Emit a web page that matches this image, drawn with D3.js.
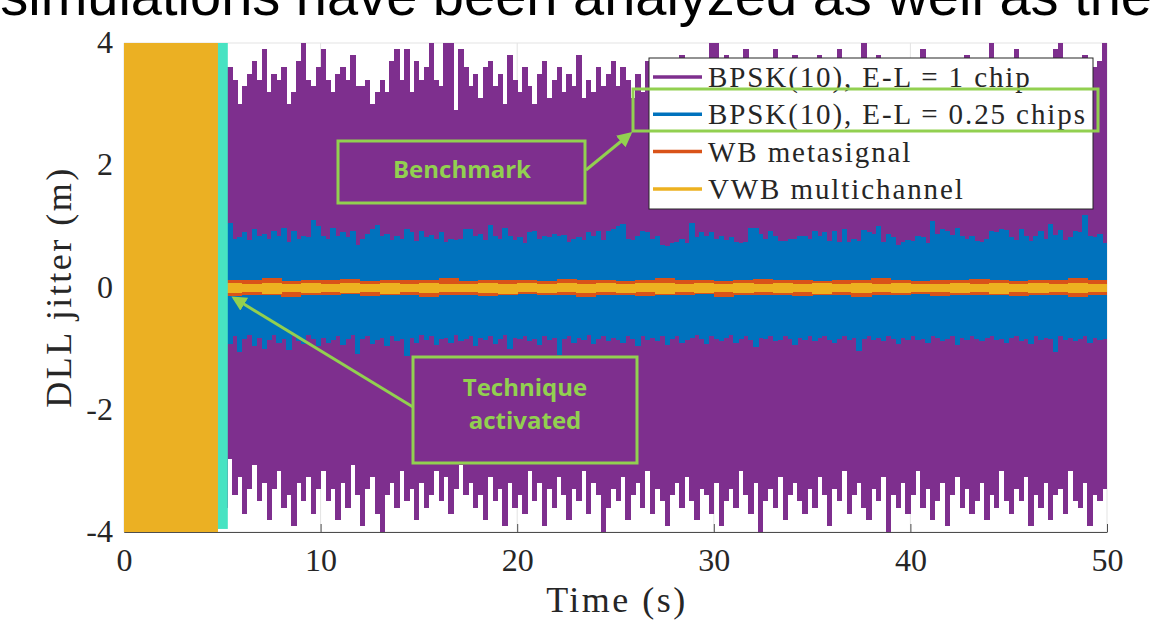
<!DOCTYPE html>
<meta charset="utf-8">
<style>
html, body {
  margin: 0;
  background: #fff;
}

.chart text {
  font-family: "Liberation Serif", "Times New Roman", serif;
  fill: #262626;
}

.chart .banner {
  font-family: "Liberation Sans", Arial, sans-serif;
  fill: #000;
}

.chart .note {
  font-family: "Open Sans", "Liberation Sans", sans-serif;
  font-weight: bold;
  fill: #92d050;
}

.chart .grid line {
  stroke: #e3e3e3;
}

.chart .samples rect {
  shape-rendering: crispEdges;
}
</style>
<body>
<svg class="chart" width="1160" height="620"></svg>

<script src="https://d3js.org/d3.v7.min.js"></script>
<script>
"use strict";

// E-L = 1 chip, envelope per 0.25 s from t = 5 s
var purpleHi = [
  3.5, 3.6, 3.4, 3.0, 3.3, 3.5, 3.7, 3.4, 3.9, 3.2, 3.5, 3.4, 3.6, 3.0, 3.2, 3.7, 4.0, 3.4, 3.3, 3.6,
  3.9, 3.4, 3.2, 3.5, 3.6, 3.4, 3.8, 3.3, 3.3, 3.4, 3.0, 3.2, 3.4, 3.2, 3.7, 3.9, 3.4, 3.9, 3.2, 3.7,
  3.4, 3.6, 4.0, 3.4, 3.3, 4.0, 4.0, 2.9, 3.9, 3.6, 3.3, 3.5, 3.1, 3.6, 3.7, 3.3, 3.5, 3.0, 3.8, 3.4,
  3.2, 3.6, 3.3, 3.0, 3.5, 3.7, 3.1, 3.4, 3.6, 3.2, 3.5, 3.3, 3.8, 3.1, 3.4, 3.2, 3.6, 3.3, 3.5, 3.7,
  3.3, 3.6, 3.4, 3.1, 3.5, 3.2, 3.7, 3.4, 3.3, 3.6, 3.0, 3.5, 3.4, 3.8, 3.2, 3.6, 3.4, 3.7, 3.3, 4.0,
  4.0, 3.5, 3.8, 3.4, 3.6, 3.3, 3.9, 3.5, 3.7, 3.2, 3.6, 3.4, 3.9, 3.5, 3.3, 3.6, 3.8, 3.4, 3.5, 3.7,
  3.4, 3.8, 3.3, 3.6, 3.5, 3.9, 3.4, 3.7, 3.3, 3.5, 4.0, 3.6, 3.4, 3.8, 3.5, 3.3, 3.6, 3.4, 3.7, 3.5,
  3.3, 3.6, 3.9, 3.4, 3.5, 3.2, 3.7, 3.4, 3.6, 3.3, 3.5, 3.8, 3.4, 3.6, 3.3, 3.5, 4.0, 3.4, 3.7, 3.5,
  3.4, 3.9, 3.3, 3.6, 3.5, 3.2, 3.7, 3.5, 3.4, 3.9, 4.0, 3.3, 3.6, 3.4, 3.5, 3.8, 3.3, 3.6, 3.7, 4.0
];
var purpleLo = [
  -3.6, -2.8, -3.4, -3.1, -3.7, -3.3, -2.9, -3.5, -3.2, -3.8, -3.3, -3.0, -3.6, -3.4, -3.9, -3.2, -3.5, -3.1, -3.7, -3.3,
  -3.0, -3.5, -3.3, -3.8, -3.2, -3.6, -2.9, -3.4, -3.9, -3.3, -3.1, -3.7, -4.0, -3.4, -3.2, -3.6, -3.0, -3.5, -3.3, -3.8,
  -3.2, -3.6, -3.4, -3.0, -3.5, -3.1, -3.7, -3.3, -2.9, -3.4, -3.2, -3.6, -3.4, -3.8, -3.1, -3.5, -3.3, -3.9, -3.2, -3.6,
  -3.4, -3.7, -3.0, -3.5, -3.2, -3.9, -3.3, -3.6, -3.1, -3.4, -3.8, -3.3, -3.5, -3.0, -3.7, -3.2, -3.4, -4.0, -3.6, -3.3,
  -3.5, -3.1, -3.8, -3.4, -3.2, -3.6, -3.0, -3.7, -3.3, -3.5, -3.9, -3.4, -3.2, -3.6, -3.1, -3.5, -3.8, -3.3, -3.4, -3.7,
  -3.2, -3.9, -3.5, -3.3, -3.6, -3.0, -3.4, -3.7, -3.2, -4.0, -3.5, -3.3, -3.6, -3.1, -3.8, -3.4, -3.2, -3.5, -3.7, -3.3,
  -3.6, -3.1, -3.4, -3.9, -3.3, -3.5, -3.0, -3.7, -3.4, -3.2, -3.6, -3.8, -3.3, -3.5, -3.1, -4.0, -3.4, -3.6, -3.2, -3.7,
  -3.4, -3.0, -3.6, -3.3, -3.8, -3.5, -3.2, -3.9, -3.4, -3.1, -3.6, -3.3, -3.7, -3.5, -3.2, -3.8, -3.4, -3.6, -3.0, -3.5,
  -3.7, -3.3, -3.5, -3.1, -3.9, -3.4, -3.6, -3.2, -3.8, -3.4, -3.3, -3.7, -3.0, -3.5, -3.6, -3.2, -3.9, -3.4, -3.5, -3.3
];

// E-L = 0.25 chips, envelope per 0.25 s from t = 5 s
var blueHi = [
  0.95, 1.05, 0.80, 0.82, 0.90, 0.78, 0.95, 0.85, 0.88, 0.80, 0.93, 0.85, 0.98, 0.75, 0.92, 0.80, 0.85, 0.82, 1.10, 1.00,
  0.85, 0.80, 0.97, 0.85, 0.90, 0.82, 0.92, 0.70, 0.80, 0.88, 0.95, 1.02, 0.85, 0.88, 0.78, 0.85, 0.80, 0.95, 0.90, 0.76,
  0.92, 0.82, 0.86, 0.80, 0.90, 0.74, 0.80, 0.77, 0.80, 0.96, 0.95, 0.85, 0.88, 0.78, 1.02, 0.85, 0.80, 0.98, 0.84, 0.78,
  0.82, 0.72, 0.90, 0.92, 0.80, 0.85, 0.82, 0.88, 0.84, 0.86, 0.74, 0.80, 0.82, 0.78, 0.90, 0.84, 0.93, 0.78, 0.93, 0.96,
  1.00, 1.04, 0.80, 0.78, 0.85, 0.92, 0.90, 0.80, 0.85, 0.70, 0.68, 0.72, 0.75, 0.80, 0.72, 1.05, 0.82, 0.90, 0.84, 0.91,
  0.80, 0.85, 0.78, 0.82, 0.74, 0.72, 0.75, 0.98, 0.98, 0.88, 0.80, 0.93, 0.85, 0.76, 0.76, 0.80, 0.80, 0.85, 0.85, 0.80,
  0.92, 0.84, 0.90, 0.76, 0.92, 0.75, 0.96, 0.74, 0.80, 0.76, 0.94, 0.90, 0.88, 1.00, 0.75, 0.88, 0.82, 0.70, 0.74, 0.78,
  0.76, 0.84, 0.82, 0.72, 1.08, 0.88, 0.96, 0.92, 0.86, 0.98, 0.84, 0.80, 0.84, 0.76, 0.74, 0.80, 0.92, 0.90, 0.96, 0.94,
  0.82, 0.78, 0.96, 0.84, 0.76, 0.84, 0.92, 0.80, 1.04, 0.86, 0.94, 0.78, 0.82, 0.92, 0.90, 1.18, 0.85, 0.82, 0.88, 0.72
];
var blueLo = [
  -0.88, -0.92, -0.80, -1.05, -0.85, -0.78, -0.95, -0.82, -1.00, -0.86, -0.78, -0.90, -0.84, -1.02, -0.80, -0.88, -0.92, -0.78, -0.85, -0.96,
  -0.82, -0.90, -0.86, -0.80, -0.94, -0.84, -0.78, -1.08, -0.85, -0.80, -0.92, -0.86, -0.82, -0.95, -0.80, -0.88, -0.84, -1.12, -0.82, -0.90,
  -0.78, -0.86, -0.80, -0.94, -0.84, -0.82, -0.90, -0.78, -0.88, -0.85, -0.80, -0.96, -0.82, -0.86, -0.80, -0.92, -0.84, -0.78, -1.00, -0.82,
  -0.85, -0.80, -0.88, -0.84, -0.94, -0.80, -0.86, -0.82, -1.10, -0.84, -0.80, -0.90, -0.82, -0.86, -0.78, -0.92, -0.84, -0.80, -0.88, -0.82,
  -0.86, -0.90, -0.80, -0.84, -0.96, -0.80, -0.86, -0.82, -0.88, -0.80, -0.94, -0.84, -0.80, -0.90, -0.86, -0.82, -0.78, -0.84, -0.92, -0.80,
  -0.84, -0.88, -0.82, -0.78, -0.90, -0.84, -0.80, -0.86, -0.98, -0.82, -0.84, -0.80, -0.88, -0.86, -0.80, -0.84, -0.94, -0.82, -0.86, -0.80,
  -0.88, -0.82, -0.80, -0.86, -0.90, -0.84, -0.80, -0.86, -0.82, -1.04, -0.84, -0.80, -0.86, -0.82, -0.88, -0.80, -0.84, -0.92, -0.82, -0.86,
  -0.80, -0.86, -0.84, -0.90, -0.80, -0.82, -0.88, -0.84, -0.80, -0.94, -0.82, -0.86, -0.80, -0.84, -0.88, -0.82, -0.80, -0.86, -0.84, -0.90,
  -0.82, -0.80, -0.88, -0.84, -0.92, -0.80, -0.86, -0.82, -0.84, -1.06, -0.80, -0.86, -0.82, -0.88, -0.84, -0.80, -0.90, -0.82, -0.86, -0.84
];

// WB metasignal and VWB multichannel, envelope per 1 s from t = 5 s
var orangeHi = [0.13, 0.12, 0.15, 0.11, 0.13, 0.12, 0.14, 0.11, 0.12, 0.13, 0.12, 0.15, 0.11, 0.12, 0.13, 0.12, 0.11, 0.14, 0.12, 0.13, 0.11, 0.12, 0.16, 0.12, 0.13, 0.11, 0.12, 0.14, 0.12, 0.13, 0.11, 0.12, 0.13, 0.15, 0.12, 0.11, 0.13, 0.12, 0.14, 0.12, 0.11, 0.13, 0.12, 0.15, 0.13];
var orangeLo = [-0.14, -0.12, -0.13, -0.15, -0.12, -0.13, -0.11, -0.14, -0.12, -0.13, -0.15, -0.12, -0.13, -0.14, -0.12, -0.11, -0.13, -0.12, -0.15, -0.12, -0.13, -0.14, -0.12, -0.13, -0.11, -0.15, -0.12, -0.13, -0.12, -0.14, -0.13, -0.12, -0.15, -0.12, -0.13, -0.11, -0.14, -0.12, -0.13, -0.12, -0.14, -0.13, -0.12, -0.15, -0.13];
var yellowHi = [0.07, 0.06, 0.08, 0.06, 0.07, 0.05, 0.07, 0.06, 0.08, 0.06, 0.07, 0.06, 0.05, 0.07, 0.06, 0.08, 0.06, 0.07, 0.06, 0.07, 0.05, 0.07, 0.08, 0.06, 0.07, 0.06, 0.07, 0.05, 0.07, 0.06, 0.08, 0.06, 0.07, 0.06, 0.07, 0.06, 0.05, 0.07, 0.06, 0.08, 0.06, 0.07, 0.06, 0.07, 0.06];
var yellowLo = [-0.09, -0.08, -0.10, -0.08, -0.09, -0.07, -0.09, -0.08, -0.10, -0.08, -0.09, -0.08, -0.07, -0.09, -0.10, -0.08, -0.09, -0.08, -0.09, -0.07, -0.09, -0.08, -0.10, -0.08, -0.09, -0.08, -0.09, -0.07, -0.09, -0.08, -0.10, -0.08, -0.09, -0.08, -0.09, -0.08, -0.07, -0.09, -0.08, -0.10, -0.08, -0.09, -0.08, -0.09, -0.08];

var xTicks = [0, 10, 20, 30, 40, 50];
var yTicks = [-4, -2, 0, 2, 4];
var warmup = [0, 4.78];       // before the technique is switched on
var switchBand = [4.78, 5.28];
var legendLabels = [
  "BPSK(10), E-L = 1 chip",
  "BPSK(10), E-L = 0.25 chips",
  "WB metasignal",
  "VWB multichannel"
];
var colors = ["#7e2f8e", "#0072bd", "#d95319", "#edb120"];

var svg = d3.select(".chart");
var x = d3.scaleLinear().domain([0, 50]).range([124, 1107]);
var y = d3.scaleLinear().domain([-4, 4]).range([532, 43]);

// slide text cut at the top edge
svg.append("text")
  .attr("class", "banner")
  .attr("x", 1152)
  .attr("y", 15)
  .attr("text-anchor", "end")
  .style("font-size", "56px")
  .text("simulations have been analyzed as well as the");

svg.append("clipPath").attr("id", "plot")
  .append("rect")
  .attr("x", x(0)).attr("y", y(4))
  .attr("width", x(50) - x(0)).attr("height", y(-4) - y(4));

var grid = svg.append("g").attr("class", "grid");
grid.selectAll(".gx").data(xTicks).join("line")
  .attr("x1", d => x(d)).attr("x2", d => x(d))
  .attr("y1", y(4)).attr("y2", y(-4));
grid.selectAll(".gy").data(yTicks).join("line")
  .attr("x1", x(0)).attr("x2", x(50))
  .attr("y1", d => y(d)).attr("y2", d => y(d));

var plot = svg.append("g").attr("clip-path", "url(#plot)");

function drawSeries(hi, lo, step, color) {
  var rows = hi.map((h, i) => ({ t: 5 + i * step, hi: h, lo: lo[i] }));
  plot.append("g").attr("class", "samples")
    .selectAll("rect").data(rows).join("rect")
    .attr("x", d => x(d.t))
    .attr("width", d => x(d.t + step) - x(d.t) + 0.5)
    .attr("y", d => y(d.hi))
    .attr("height", d => y(d.lo) - y(d.hi))
    .attr("fill", color);
}

drawSeries(purpleHi, purpleLo, 0.25, colors[0]);
drawSeries(blueHi, blueLo, 0.25, colors[1]);
drawSeries(orangeHi, orangeLo, 1, colors[2]);
drawSeries(yellowHi, yellowLo, 1, colors[3]);

// bottom axis
var xAxis = svg.append("g")
  .attr("transform", "translate(0," + y(-4) + ")")
  .call(d3.axisBottom(x).tickValues(xTicks).tickFormat(d => String(d))
    .tickSizeInner(-8).tickSizeOuter(0).tickPadding(16));
xAxis.select(".domain").attr("stroke", "#4d4d4d");
xAxis.selectAll(".tick line").attr("stroke", "#4d4d4d");
xAxis.selectAll("text").style("font-size", "32px").attr("fill", "#262626");

var yAxis = svg.append("g")
  .attr("transform", "translate(" + x(0) + ",0)")
  .call(d3.axisLeft(y).tickValues(yTicks).tickFormat(d => String(d))
    .tickSizeInner(0).tickSizeOuter(0).tickPadding(11));
yAxis.select(".domain").attr("stroke", "#4d4d4d");
yAxis.selectAll("text").style("font-size", "32px").attr("fill", "#262626").attr("dy", "0.3em");

svg.append("rect")
  .attr("x", x(warmup[0])).attr("y", y(4))
  .attr("width", x(warmup[1]) - x(warmup[0])).attr("height", y(-4) - y(4))
  .attr("fill", "#ebb023");
svg.append("rect")
  .attr("x", x(switchBand[0])).attr("y", y(4))
  .attr("width", x(switchBand[1]) - x(switchBand[0])).attr("height", y(-3.95) - y(4))
  .attr("fill", "#47e3c2");

svg.append("text")
  .attr("x", 617).attr("y", 612)
  .attr("text-anchor", "middle")
  .style("font-size", "36px")
  .style("letter-spacing", "2.5px")
  .text("Time (s)");

svg.append("text")
  .attr("transform", "translate(71,287) rotate(-90)")
  .attr("text-anchor", "middle")
  .style("font-size", "36px")
  .style("letter-spacing", "2.5px")
  .text("DLL jitter (m)");

// legend
var legend = svg.append("g").attr("transform", "translate(649,58)");
legend.append("rect")
  .attr("width", 444).attr("height", 151)
  .attr("fill", "#fff").attr("stroke", "#262626").attr("stroke-width", 1);
var items = legend.selectAll(".item").data(legendLabels).join("g")
  .attr("transform", (d, i) => "translate(0," + (19 + i * 37.3) + ")");
items.append("line")
  .attr("x1", 4).attr("x2", 53)
  .attr("stroke", (d, i) => colors[i]).attr("stroke-width", 3.5);
items.append("text")
  .attr("x", 59).attr("dy", "0.35em")
  .style("font-size", "29px")
  .style("letter-spacing", "1.9px")
  .text(d => d);

// annotations
var green = "#92d050";
svg.append("defs").append("marker")
  .attr("id", "head")
  .attr("viewBox", "0 0 10 10")
  .attr("refX", 8).attr("refY", 5)
  .attr("markerWidth", 5).attr("markerHeight", 5)
  .attr("orient", "auto")
  .append("path").attr("d", "M0,0L10,5L0,10z").attr("fill", green);

svg.append("rect")
  .attr("x", 633).attr("y", 89).attr("width", 465).attr("height", 42)
  .attr("fill", "none").attr("stroke", green).attr("stroke-width", 3);

svg.append("rect")
  .attr("x", 338).attr("y", 141).attr("width", 247).attr("height", 62)
  .attr("fill", "none").attr("stroke", green).attr("stroke-width", 3);
svg.append("text").attr("class", "note")
  .attr("x", 462).attr("y", 178)
  .attr("text-anchor", "middle")
  .style("font-size", "24px")
  .text("Benchmark");
svg.append("line")
  .attr("x1", 586).attr("y1", 170).attr("x2", 630).attr("y2", 134)
  .attr("stroke", green).attr("stroke-width", 3)
  .attr("marker-end", "url(#head)");

svg.append("rect")
  .attr("x", 413).attr("y", 357).attr("width", 224).attr("height", 106)
  .attr("fill", "none").attr("stroke", green).attr("stroke-width", 3);
svg.append("text").attr("class", "note")
  .attr("x", 525).attr("y", 396)
  .attr("text-anchor", "middle")
  .style("font-size", "24px")
  .text("Technique");
svg.append("text").attr("class", "note")
  .attr("x", 525).attr("y", 429)
  .attr("text-anchor", "middle")
  .style("font-size", "24px")
  .text("activated");
svg.append("line")
  .attr("x1", 413).attr("y1", 407).attr("x2", 234).attr("y2", 298)
  .attr("stroke", green).attr("stroke-width", 3)
  .attr("marker-end", "url(#head)");
</script>
</body>
